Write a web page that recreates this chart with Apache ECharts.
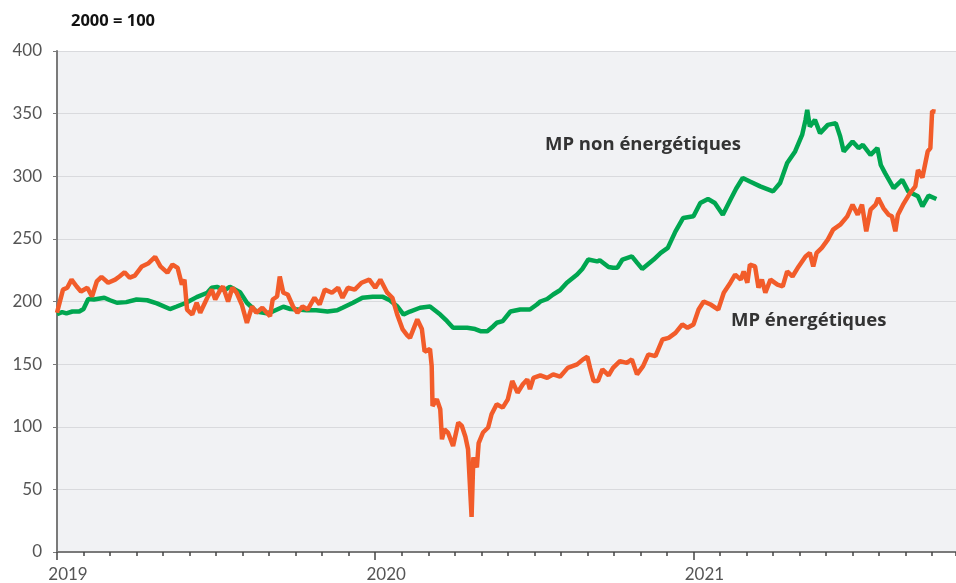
<!DOCTYPE html>
<html>
<head>
<meta charset="utf-8">
<script src="https://cdn.jsdelivr.net/npm/echarts@6/dist/echarts.min.js"></script>
<style>
  html, body { margin: 0; padding: 0; background: #fff; }
  #chart { width: 956px; height: 583px; }
</style>
</head>
<body>
<div id="chart"></div>
<script>
// MP énergétiques (indice 2000 = 100)
let energyDates = [
  "2019-01-01","2019-01-08","2019-01-13","2019-01-18","2019-01-24","2019-01-29","2019-02-05","2019-02-10","2019-02-15","2019-02-20",
  "2019-02-27","2019-03-07","2019-03-12","2019-03-18","2019-03-24","2019-03-30","2019-04-07","2019-04-14","2019-04-22","2019-04-28",
  "2019-05-06","2019-05-12","2019-05-18","2019-05-23","2019-05-26","2019-05-29","2019-06-04","2019-06-09","2019-06-13","2019-06-21",
  "2019-06-26","2019-06-30","2019-07-06","2019-07-09","2019-07-15","2019-07-20","2019-07-25","2019-07-31","2019-08-06","2019-08-12",
  "2019-08-17","2019-08-24","2019-09-02","2019-09-05","2019-09-10","2019-09-13","2019-09-17","2019-09-22","2019-09-28","2019-10-03",
  "2019-10-09","2019-10-15","2019-10-23","2019-10-29","2019-11-04","2019-11-12","2019-11-19","2019-11-24","2019-11-30","2019-12-08",
  "2019-12-16","2019-12-25","2020-01-01","2020-01-07","2020-01-15","2020-01-21","2020-01-27","2020-02-02","2020-02-07","2020-02-10",
  "2020-02-18","2020-02-23","2020-02-26","2020-03-03","2020-03-05","2020-03-06","2020-03-11","2020-03-15","2020-03-17","2020-03-20",
  "2020-03-24","2020-03-30","2020-04-05","2020-04-09","2020-04-13","2020-04-16","2020-04-20","2020-04-22","2020-04-26","2020-04-28",
  "2020-05-03","2020-05-09","2020-05-13","2020-05-19","2020-05-26","2020-06-01","2020-06-06","2020-06-12","2020-06-18","2020-06-23",
  "2020-06-26","2020-06-30","2020-07-08","2020-07-16","2020-07-23","2020-07-31","2020-08-09","2020-08-20","2020-08-27","2020-09-01",
  "2020-09-04","2020-09-08","2020-09-13","2020-09-18","2020-09-25","2020-09-30","2020-10-08","2020-10-16","2020-10-22","2020-10-28",
  "2020-11-04","2020-11-10","2020-11-18","2020-11-26","2020-12-03","2020-12-11","2020-12-19","2020-12-25","2021-01-01","2021-01-07",
  "2021-01-13","2021-01-21","2021-01-30","2021-02-05","2021-02-12","2021-02-17","2021-02-23","2021-02-26","2021-03-02","2021-03-05",
  "2021-03-11","2021-03-15","2021-03-19","2021-03-23","2021-03-29","2021-04-06","2021-04-12","2021-04-17","2021-04-23","2021-04-30",
  "2021-05-08","2021-05-13","2021-05-17","2021-05-21","2021-05-27","2021-06-03","2021-06-09","2021-06-17","2021-06-25","2021-07-01",
  "2021-07-07","2021-07-12","2021-07-17","2021-07-22","2021-07-28","2021-07-31","2021-08-06","2021-08-12","2021-08-16","2021-08-20",
  "2021-08-23","2021-08-29","2021-09-06","2021-09-12","2021-09-15","2021-09-20","2021-09-26","2021-09-29","2021-10-01","2021-10-05"
];
let energyValues = [
  191, 209.5, 211, 217.5, 212, 208, 211, 204, 216, 219.7,
  215, 217.5, 220, 223.3, 219, 220.7, 228, 230.3, 235.6, 228,
  223, 229.5, 226.8, 213.5, 217.5, 193.6, 189.6, 199, 191, 203,
  209.5, 201.6, 209.5, 212, 200, 211, 207, 197.6, 183, 196,
  191, 195, 188.3, 201.6, 204, 220, 207, 205.6, 196, 191,
  196, 193.6, 203, 197.6, 209.5, 207, 211, 203, 211, 209.5,
  215, 217.5, 211, 217.5, 207, 203, 189, 177.7, 173, 171,
  185.7, 178, 160, 162, 148.5, 116.6, 121.9, 114, 90, 98,
  95.4, 84.7, 103.3, 100.6, 92, 82, 28, 75.5, 67.5, 87,
  95.4, 99.4, 110, 118, 115.3, 121.9, 136.5, 127.2, 133.9, 137.8,
  130, 139, 141, 139, 141.8, 140, 147, 149.8, 153.8, 155.9,
  147, 136.5, 136.5, 145.8, 141, 147, 152.4, 151, 153.8, 141.8,
  148.4, 157.8, 156.4, 169.7, 171, 175, 181.7, 179, 181.7, 193.6,
  200, 197.6, 193.6, 207, 215, 221.5, 217.5, 224, 215, 229.5,
  228, 211, 217.5, 207, 217.5, 213.5, 212, 224, 220, 228,
  236, 238.8, 228, 238.8, 242.8, 249.4, 257.4, 261.3, 268, 277.3,
  269.3, 277.3, 256, 273.3, 277.3, 282.6, 274.6, 269.3, 268, 256,
  269.3, 277.3, 286.6, 291.9, 305, 299, 319.8, 322.5, 352, 351.6
];

// MP non énergétiques
let nonEnergyDates = [
  "2019-01-01","2019-01-07","2019-01-12","2019-01-19","2019-01-27","2019-02-01","2019-02-06","2019-02-12","2019-02-23","2019-03-01",
  "2019-03-09","2019-03-20","2019-04-01","2019-04-13","2019-04-24","2019-05-09","2019-05-17","2019-05-28","2019-06-09","2019-06-21",
  "2019-06-26","2019-07-02","2019-07-11","2019-07-17","2019-07-29","2019-08-06","2019-08-17","2019-08-29","2019-09-05","2019-09-17",
  "2019-09-25","2019-10-03","2019-10-14","2019-10-25","2019-11-07","2019-11-18","2019-11-24","2019-12-06","2019-12-17","2019-12-29",
  "2020-01-10","2020-01-18","2020-01-27","2020-02-03","2020-02-10","2020-02-21","2020-03-03","2020-03-15","2020-03-23","2020-03-30",
  "2020-04-15","2020-04-24","2020-04-30","2020-05-08","2020-05-15","2020-05-19","2020-05-26","2020-06-04","2020-06-15","2020-06-26",
  "2020-07-04","2020-07-08","2020-07-16","2020-07-23","2020-07-31","2020-08-08","2020-08-20","2020-08-26","2020-09-02","2020-09-12",
  "2020-09-15","2020-09-25","2020-09-30","2020-10-05","2020-10-11","2020-10-22","2020-10-28","2020-11-03","2020-11-16","2020-11-24",
  "2020-12-02","2020-12-11","2020-12-20","2021-01-01","2021-01-09","2021-01-18","2021-01-26","2021-02-04","2021-02-12","2021-02-18",
  "2021-02-25","2021-03-05","2021-03-17","2021-04-01","2021-04-09","2021-04-17","2021-04-26","2021-05-04","2021-05-08","2021-05-10",
  "2021-05-13","2021-05-19","2021-05-25","2021-06-03","2021-06-12","2021-06-17","2021-06-21","2021-07-01","2021-07-08","2021-07-13",
  "2021-07-22","2021-07-30","2021-08-03","2021-08-08","2021-08-18","2021-08-28","2021-09-04","2021-09-15","2021-09-20","2021-09-27",
  "2021-10-06"
];
let nonEnergyValues = [
  190, 191.5, 190.5, 192, 192, 194, 202, 201.6, 203, 201,
  199, 199.5, 201.6, 201, 198.5, 194, 196, 199, 203.5, 207,
  211, 211.7, 209, 211.7, 207.4, 199, 192, 190.5, 192, 195.8,
  194, 193.6, 193, 193, 192, 193, 195, 199, 203, 203.7,
  203.7, 201, 196, 189.6, 192, 195, 196, 189.6, 184.3, 179,
  179, 178, 176.3, 176.3, 180.3, 183, 184.3, 192, 193.6, 193.6,
  197.6, 200, 202, 205.6, 209, 215, 221.5, 226, 233.5, 232,
  233, 227.6, 227, 227, 233.5, 236, 231, 226, 233.5, 238.8,
  242.8, 256, 266.7, 268, 278.6, 281.8, 278.6, 269.3, 281.3, 290,
  298.6, 295.8, 291.9, 287.9, 294.6, 310.5, 319.8, 333, 345, 353,
  339.7, 345, 334.4, 341, 342.4, 331.7, 319.8, 327.7, 322.5, 325,
  317, 322.5, 309, 302.5, 290.6, 297.2, 287.9, 284, 276, 284.5,
  281.8
];

let yTicks = [0, 50, 100, 150, 200, 250, 300, 350, 400];
let yearLabels = ["2019", "2020", "2021"];

// date -> months since Jan 2019, so ticks fall on month starts
function toMonths(s) {
  let p = s.split("-").map(Number);
  let dim = new Date(p[0], p[1], 0).getDate();
  return (p[0] - 2019) * 12 + (p[1] - 1) + (p[2] - 1) / dim;
}
function pairs(dates, values) {
  return dates.map((d, i) => [toMonths(d), values[i]]);
}

let chart = echarts.init(document.getElementById("chart"));
let labelFont = "Lato, 'Open Sans', sans-serif";
let noteFont = "'Open Sans', sans-serif";

chart.setOption({
  animation: false,
  title: {
    text: "2000 = 100",
    left: 66,
    top: 8,
    textStyle: { fontFamily: noteFont, fontSize: 16.5, fontWeight: "bold", color: "#111" }
  },
  grid: {
    left: 57,
    right: 0,
    top: 51,
    bottom: 30,
    show: true,
    backgroundColor: "#f1f2f4",
    borderWidth: 0
  },
  xAxis: [{
    type: "value",
    min: 0,
    max: 33.9,
    interval: 1,
    axisLine: { show: true, lineStyle: { color: "#7a7a7a", width: 2 } },
    axisTick: { show: true, length: 4, lineStyle: { color: "#444", width: 1.5 } },
    axisLabel: { show: false },
    splitLine: { show: false }
  }, {
    type: "value",
    position: "bottom",
    min: 0,
    max: 33.9,
    interval: 12,
    axisLine: { show: false },
    axisTick: { show: true, length: 8, lineStyle: { color: "#444", width: 1.5 } },
    axisLabel: {
      show: true,
      margin: 14,
      padding: [0, 0, 0, 22],
      fontFamily: labelFont,
      fontSize: 17,
      color: "#555",
      showMaxLabel: false,
      formatter: v => yearLabels[v / 12] || ""
    },
    splitLine: { show: false }
  }],
  yAxis: {
    type: "value",
    min: yTicks[0],
    max: yTicks[yTicks.length - 1],
    interval: 50,
    axisLine: { show: true, lineStyle: { color: "#7a7a7a", width: 2 } },
    axisTick: { show: true, length: 4, lineStyle: { color: "#7a7a7a" } },
    axisLabel: { margin: 15, fontFamily: labelFont, fontSize: 17, color: "#555" },
    splitLine: { show: true, lineStyle: { color: "#d9dadd", width: 1.2 } }
  },
  graphic: [{
    type: "text",
    left: 545,
    top: 135,
    style: { text: "MP non énergétiques", font: "bold 18.5px " + noteFont, fill: "#333" }
  }, {
    type: "text",
    left: 731,
    top: 311,
    style: { text: "MP énergétiques", font: "bold 18.5px " + noteFont, fill: "#333" }
  }],
  series: [{
    name: "MP non énergétiques",
    type: "line",
    xAxisIndex: 0,
    showSymbol: false,
    lineStyle: { color: "#00a650", width: 4.5 },
    data: pairs(nonEnergyDates, nonEnergyValues)
  }, {
    name: "MP énergétiques",
    type: "line",
    xAxisIndex: 0,
    showSymbol: false,
    lineStyle: { color: "#f25c2a", width: 4.5 },
    data: pairs(energyDates, energyValues)
  }]
});
</script>
</body>
</html>
